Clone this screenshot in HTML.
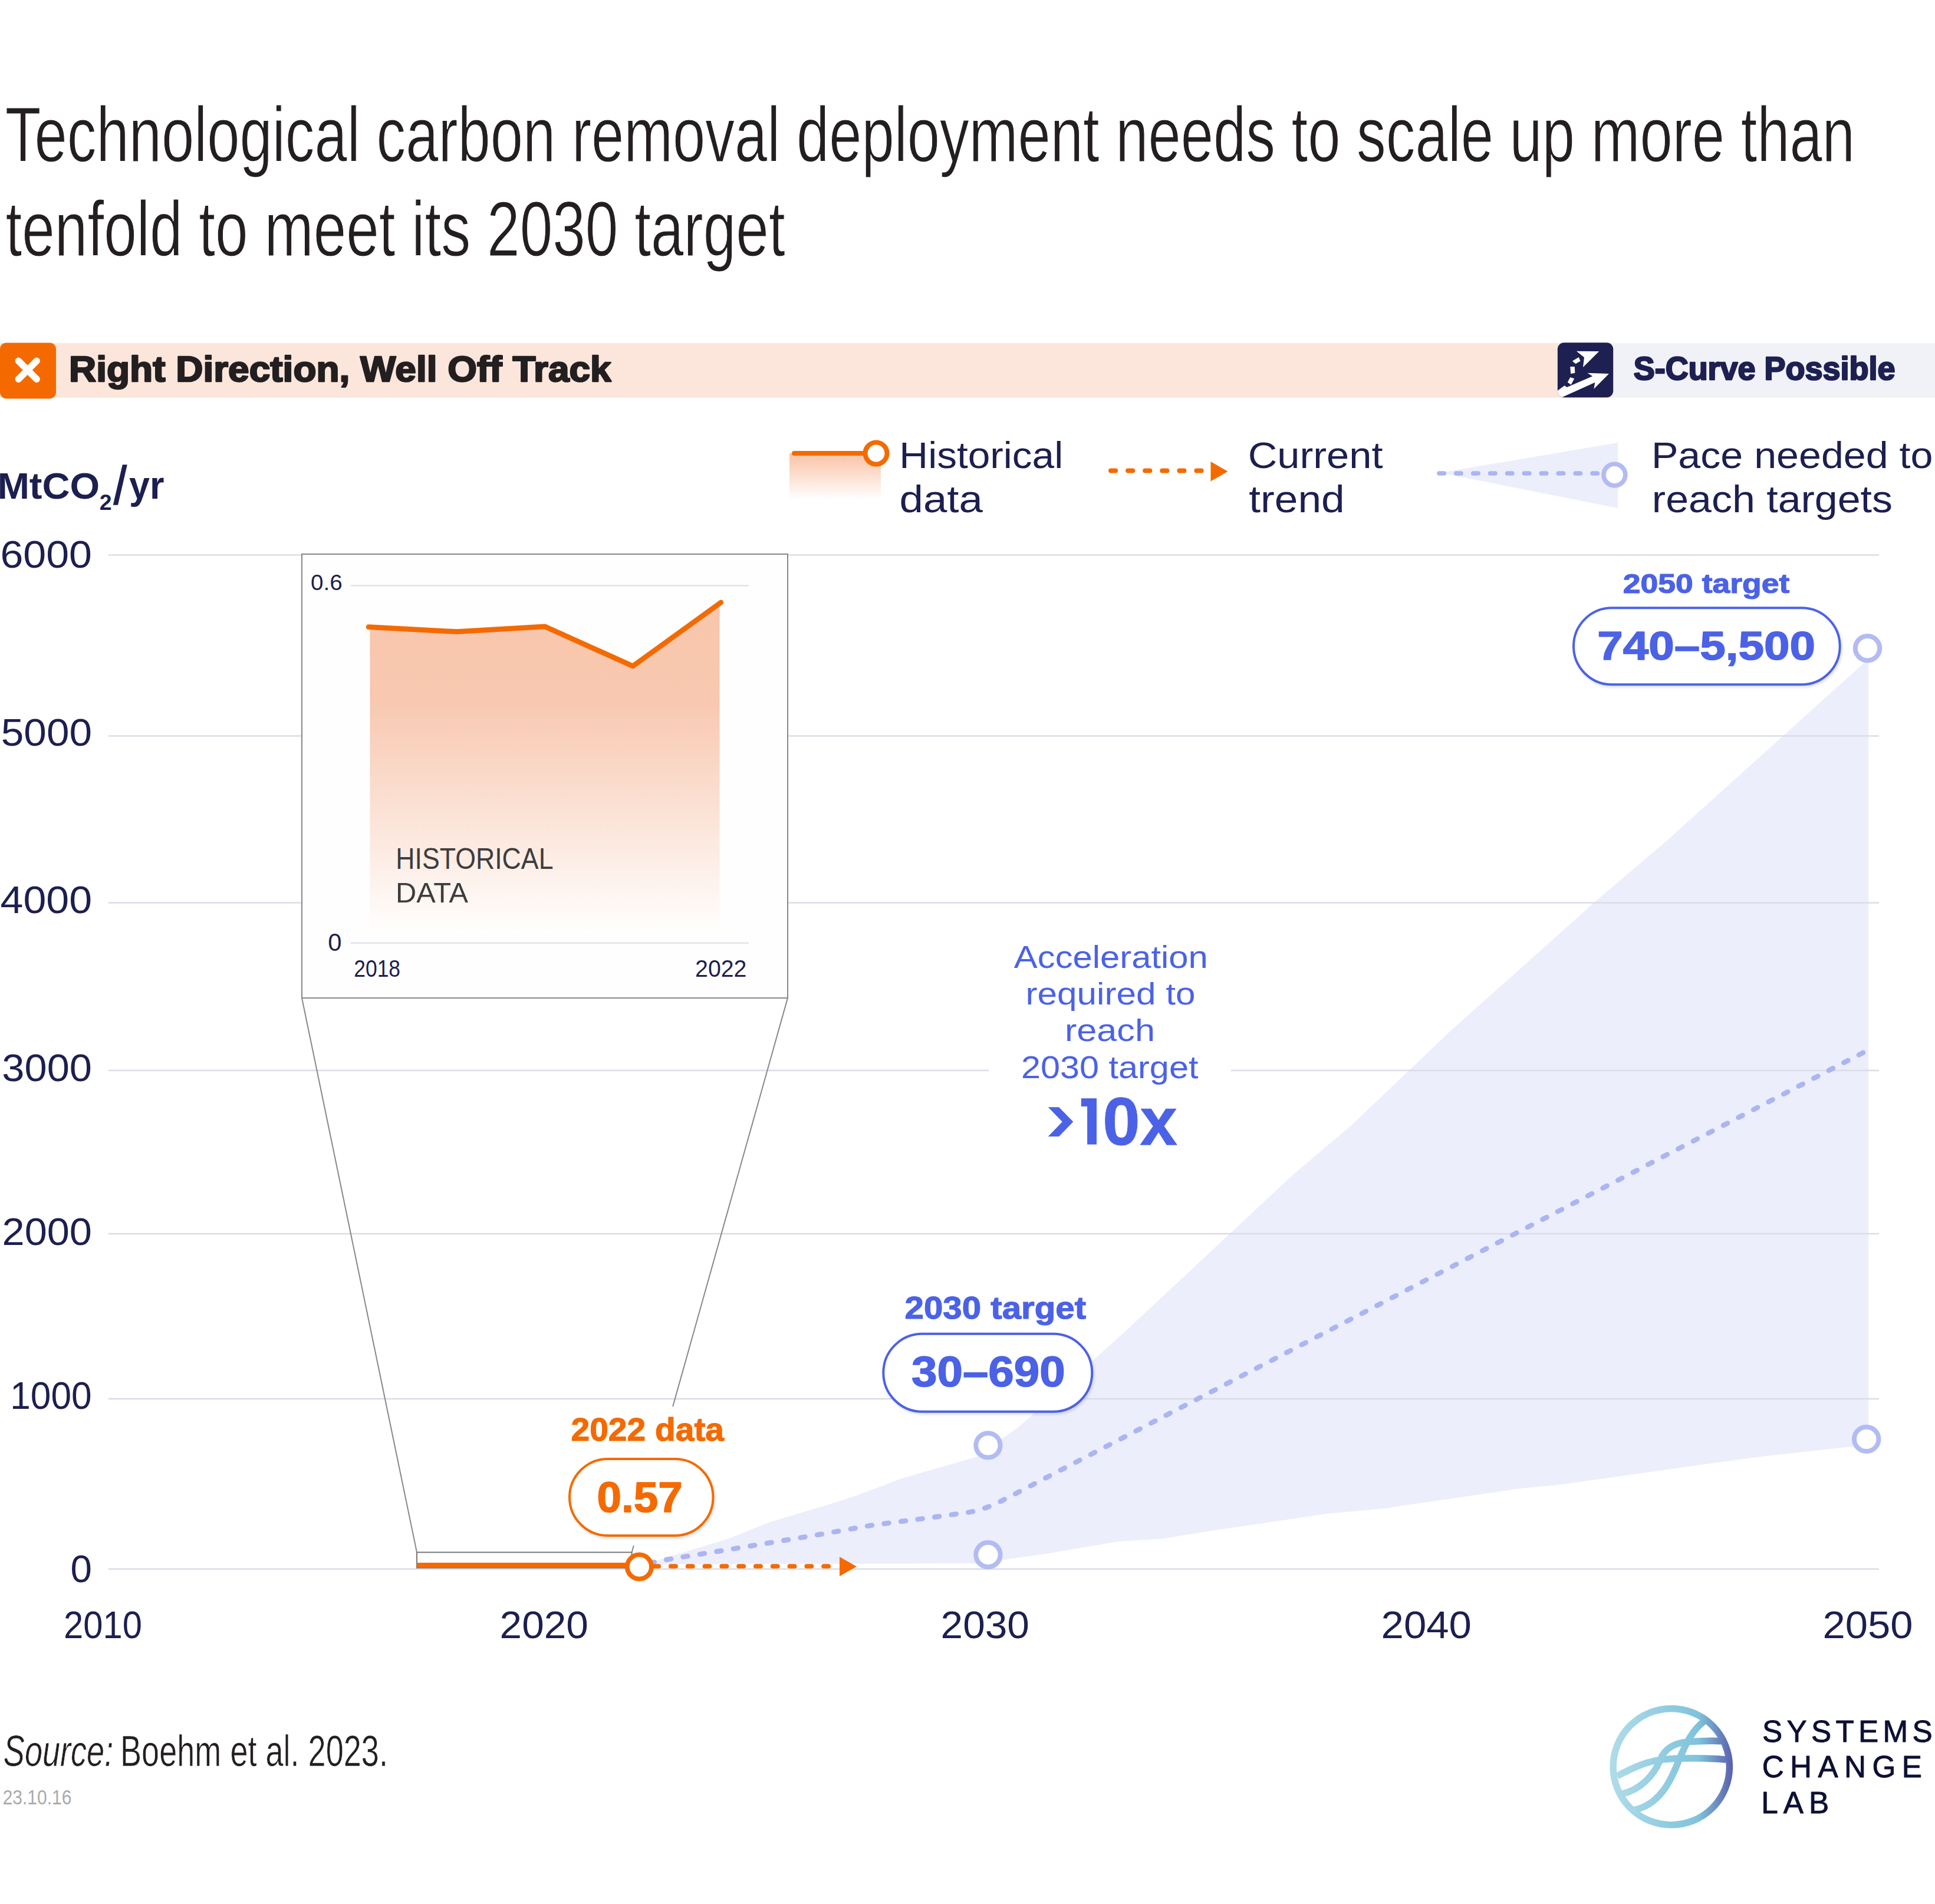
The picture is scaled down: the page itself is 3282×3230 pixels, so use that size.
<!DOCTYPE html>
<html><head><meta charset="utf-8"><style>
html,body{margin:0;padding:0;background:#fff;}
svg{display:block;}
text{font-family:"Liberation Sans",sans-serif;}
</style></head><body>
<svg width="3282" height="3230" viewBox="0 0 3282 3230">
<defs>
<linearGradient id="histg" x1="0" y1="0" x2="0" y2="1">
<stop offset="0" stop-color="#f8c6ac"/><stop offset="0.3" stop-color="#f8c8b0"/><stop offset="1" stop-color="#ffffff"/>
</linearGradient>
<linearGradient id="leggr" x1="0" y1="0" x2="0" y2="1">
<stop offset="0" stop-color="#f9c2a4"/><stop offset="1" stop-color="#ffffff"/>
</linearGradient>
<linearGradient id="logog" gradientUnits="userSpaceOnUse" x1="85" y1="0" x2="1815" y2="0">
<stop offset="0" stop-color="#b0dcea"/><stop offset="0.72" stop-color="#7fc3db"/><stop offset="1" stop-color="#5a5fac"/>
</linearGradient>
<clipPath id="iconclip"><rect x="2641.85" y="581.3" width="94.35" height="93" rx="11"/></clipPath>
<filter id="sh" x="-10%" y="-10%" width="120%" height="130%"><feDropShadow dx="2" dy="3" stdDeviation="2" flood-color="#000" flood-opacity="0.12"/></filter>
</defs>
<rect width="3282" height="3230" fill="#ffffff"/>
<text x="8.78" y="274.00" font-size="130.82" textLength="3137.35" lengthAdjust="spacingAndGlyphs" fill="#231f20" stroke="#fff" stroke-width="1.2">Technological carbon removal deployment needs to scale up more than</text>
<text x="9.49" y="434.00" font-size="130.82" textLength="1322.24" lengthAdjust="spacingAndGlyphs" fill="#231f20" stroke="#fff" stroke-width="1.2">tenfold to meet its 2030 target</text>
<rect x="0" y="582" width="2700" height="92.7" fill="#fce6dc"/>
<rect x="2700" y="582" width="582" height="92.7" fill="#f1f2f8"/>
<rect x="0" y="581.4" width="95" height="94.9" rx="11" fill="#f46a00"/>
<path d="M31.3,612.3 L62.2,643.2 M62.2,612.3 L31.3,643.2" stroke="#fff" stroke-width="11.5" stroke-linecap="round"/>
<text x="116.99" y="646.75" font-size="60.32" textLength="919.70" lengthAdjust="spacingAndGlyphs" fill="#231f20" font-weight="bold"  stroke="#231f20" stroke-width="2.5" stroke-linejoin="round">Right Direction, Well Off Track</text>
<rect x="2641.85" y="581.3" width="94.35" height="93" rx="11" fill="#1e2052"/>
<g clip-path="url(#iconclip)"><g transform="translate(2636,576) scale(0.05568)" fill="#fff"><polygon points="60,1590 320,1400 385,1455 1170,1120 1015,1020 1670,1040 1210,1505 1245,1305 220,1770 60,1800"/><polygon points="680,355 1370,360 880,845 915,545"/><polygon points="555,655 750,540 800,655 655,740"/><polygon points="490,825 625,825 635,1020 505,1040"/><polygon points="490,1150 615,1190 515,1380 410,1300"/></g></g>
<text x="2770.70" y="644.45" font-size="55.23" textLength="443.90" lengthAdjust="spacingAndGlyphs" fill="#1e2052" font-weight="bold"  stroke="#1e2052" stroke-width="2.5" stroke-linejoin="round">S-Curve Possible</text>
<rect x="1339" y="769" width="155" height="78" fill="url(#leggr)"/>
<line x1="1347" y1="769" x2="1466" y2="769" stroke="#f46a00" stroke-width="8" stroke-linecap="round"/>
<circle cx="1486" cy="769" r="18.5" fill="#fff" stroke="#f46a00" stroke-width="8"/>
<text x="1525.36" y="793.60" font-size="63.08" textLength="277.86" lengthAdjust="spacingAndGlyphs" fill="#1c1f4f" >Historical</text>
<text x="1525.55" y="869.00" font-size="63.90" textLength="141.35" lengthAdjust="spacingAndGlyphs" fill="#1c1f4f" >data</text>
<line x1="1884" y1="798.6" x2="2040" y2="798.6" stroke="#f46a00" stroke-width="8" stroke-linecap="round" stroke-dasharray="8.1 21"/>
<polygon points="2053.5,783 2082.5,799.7 2053.5,816.5" fill="#f46a00"/>
<text x="2116.72" y="793.60" font-size="63.08" textLength="228.79" lengthAdjust="spacingAndGlyphs" fill="#1c1f4f" >Current</text>
<text x="2118.32" y="869.00" font-size="63.90" textLength="162.27" lengthAdjust="spacingAndGlyphs" fill="#1c1f4f" >trend</text>
<polygon points="2442,802 2744,751 2744,862" fill="#eceefb"/>
<line x1="2441" y1="803" x2="2716" y2="803" stroke="#abb5f1" stroke-width="7.7" stroke-linecap="round" stroke-dasharray="8.2 20.7"/>
<circle cx="2738.4" cy="805.5" r="18.4" fill="#fff" stroke="#b3bbf3" stroke-width="7.7"/>
<text x="2800.91" y="793.60" font-size="63.08" textLength="477.55" lengthAdjust="spacingAndGlyphs" fill="#1c1f4f" >Pace needed to</text>
<text x="2801.86" y="869.00" font-size="63.90" textLength="408.17" lengthAdjust="spacingAndGlyphs" fill="#1c1f4f" >reach targets</text>
<text x="-4.35" y="846.00" font-size="62.07" textLength="173.49" lengthAdjust="spacingAndGlyphs" fill="#1c1f4f" font-weight="bold" >MtCO</text>
<text x="168.70" y="865.40" font-size="37.24" textLength="20.79" lengthAdjust="spacingAndGlyphs" fill="#1c1f4f" font-weight="bold" >2</text>
<polygon points="207.8,788.3 215.8,788.3 200,856.8 191.8,856.8" fill="#1c1f4f"/>
<text x="218.91" y="846.00" font-size="66.25" textLength="59.55" lengthAdjust="spacingAndGlyphs" fill="#1c1f4f" font-weight="bold" >yr</text>
<path d="M1084,2651 L1109,2648.5 L1235,2610.5 L1306,2582 L1400,2554 L1453,2537 L1527,2509 L1557,2500 L1620,2482 L1658,2471 L1676,2462 L1700.6,2440 L1730,2419 L1906,2261 L2194,1992 L2291,1910 L2459,1750 L2712,1524 L2825,1428 L3169,1118 L3169,2451 L3169,2451 L3004,2469 L2956,2475 L2643,2519 L2579,2525 L2347,2559 L2250,2568 L2034,2600 L1975,2610 L1896,2615 L1780,2635.1 L1699.4,2646.5 L1675,2652 L1084,2654 Z" fill="#eceefb" />
<line x1="184" y1="941.5" x2="3187" y2="941.5" stroke="#dcdce6" stroke-width="2.5"/>
<text x="0.45" y="963.40" font-size="64.97" textLength="155.58" lengthAdjust="spacingAndGlyphs" fill="#1c1f4f" >6000</text>
<line x1="184" y1="1248.5" x2="3187" y2="1248.5" stroke="#dcdce6" stroke-width="2.5"/>
<text x="1.82" y="1265.40" font-size="64.97" textLength="154.18" lengthAdjust="spacingAndGlyphs" fill="#1c1f4f" >5000</text>
<line x1="184" y1="1531.5" x2="3187" y2="1531.5" stroke="#dcdce6" stroke-width="2.5"/>
<text x="0.60" y="1549.40" font-size="64.97" textLength="155.43" lengthAdjust="spacingAndGlyphs" fill="#1c1f4f" >4000</text>
<line x1="184" y1="1816" x2="3187" y2="1816" stroke="#dcdce6" stroke-width="2.5"/>
<text x="3.39" y="1834.40" font-size="64.97" textLength="152.59" lengthAdjust="spacingAndGlyphs" fill="#1c1f4f" >3000</text>
<line x1="184" y1="2093" x2="3187" y2="2093" stroke="#dcdce6" stroke-width="2.5"/>
<text x="3.55" y="2112.40" font-size="64.97" textLength="152.42" lengthAdjust="spacingAndGlyphs" fill="#1c1f4f" >2000</text>
<line x1="184" y1="2373" x2="3187" y2="2373" stroke="#dcdce6" stroke-width="2.5"/>
<text x="17.26" y="2390.40" font-size="64.97" textLength="138.47" lengthAdjust="spacingAndGlyphs" fill="#1c1f4f" >1000</text>
<line x1="184" y1="2661.8" x2="3187" y2="2661.8" stroke="#dcdce6" stroke-width="2.5"/>
<text x="119.44" y="2684.40" font-size="64.97" textLength="36.42" lengthAdjust="spacingAndGlyphs" fill="#1c1f4f" >0</text>
<text x="107.99" y="2778.70" font-size="65.59" textLength="132.94" lengthAdjust="spacingAndGlyphs" fill="#1c1f4f" >2010</text>
<text x="847.60" y="2778.70" font-size="65.59" textLength="150.34" lengthAdjust="spacingAndGlyphs" fill="#1c1f4f" >2020</text>
<text x="1595.60" y="2778.70" font-size="65.59" textLength="150.34" lengthAdjust="spacingAndGlyphs" fill="#1c1f4f" >2030</text>
<text x="2342.53" y="2778.70" font-size="65.59" textLength="153.46" lengthAdjust="spacingAndGlyphs" fill="#1c1f4f" >2040</text>
<text x="3091.54" y="2778.70" font-size="65.59" textLength="153.05" lengthAdjust="spacingAndGlyphs" fill="#1c1f4f" >2050</text>
<path d="M1084.4,2655 L1134.1,2645.1 L1220.6,2631.2 L1307,2617 L1392.2,2602.8 L1479.9,2587.3 L1566.7,2576.1 L1640,2566 Q1669,2561.6 1700,2545.5 L3163,1784.2" fill="none" stroke="#abb5f1" stroke-width="8.5" stroke-linecap="round" stroke-linejoin="round" stroke-dasharray="8 20.8" stroke-dashoffset="10.9"/>
<rect x="512" y="940" width="824" height="753" fill="#fefefe" stroke="#888" stroke-width="2"/>
<line x1="595" y1="993.4" x2="1270" y2="993.4" stroke="#dcdce6" stroke-width="2"/>
<line x1="595" y1="1599.7" x2="1270" y2="1599.7" stroke="#dcdce6" stroke-width="2"/>
<polygon points="627.4,1063.7 774.6,1071.6 924,1062.8 1073.4,1130 1220.6,1023 1220.6,1585 627.4,1585" fill="url(#histg)"/>
<polyline points="625.2,1063.7 774.6,1071.6 924,1062.8 1073.4,1130 1222.8,1022" fill="none" stroke="#f46a00" stroke-width="8.8" stroke-linecap="round" stroke-linejoin="round"/>
<text x="527.09" y="1001.00" font-size="37.24" textLength="53.60" lengthAdjust="spacingAndGlyphs" fill="#1c1f4f" >0.6</text>
<text x="556.37" y="1613.00" font-size="42.97" textLength="23.27" lengthAdjust="spacingAndGlyphs" fill="#1c1f4f" >0</text>
<text x="600.22" y="1657.00" font-size="41.53" textLength="78.82" lengthAdjust="spacingAndGlyphs" fill="#1c1f4f" >2018</text>
<text x="1179.02" y="1657.00" font-size="41.53" textLength="87.45" lengthAdjust="spacingAndGlyphs" fill="#1c1f4f" >2022</text>
<text x="671.25" y="1473.60" font-size="49.13" textLength="267.23" lengthAdjust="spacingAndGlyphs" fill="#3d3d3d" >HISTORICAL</text>
<text x="671.12" y="1530.70" font-size="47.97" textLength="122.97" lengthAdjust="spacingAndGlyphs" fill="#3d3d3d" >DATA</text>
<line x1="512" y1="1693" x2="707" y2="2633.4" stroke="#888" stroke-width="2"/>
<line x1="1336" y1="1693" x2="1071.6" y2="2633.4" stroke="#888" stroke-width="2"/>
<rect x="707" y="2633.4" width="364.6" height="26.3" fill="#fff" stroke="#777" stroke-width="2"/>
<line x1="707" y1="2655.3" x2="1084" y2="2655.3" stroke="#f46a00" stroke-width="8.5"/>
<line x1="1109" y1="2657" x2="1425" y2="2657" stroke="#f46a00" stroke-width="7.7" stroke-linecap="round" stroke-dasharray="8.3 20.5"/>
<polygon points="1424,2641 1453,2657.5 1424,2674" fill="#f46a00"/>
<circle cx="1084.4" cy="2658" r="20.6" fill="#fff" stroke="#f46a00" stroke-width="7.9"/>
<circle cx="1675.9" cy="2451.9" r="20.7" fill="#fff" stroke="#b3bbf3" stroke-width="8"/>
<circle cx="1675.9" cy="2637.5" r="20.7" fill="#fff" stroke="#b3bbf3" stroke-width="8"/>
<circle cx="3167.5" cy="1099.8" r="20.7" fill="#fff" stroke="#b3bbf3" stroke-width="8"/>
<circle cx="3165.7" cy="2441.4" r="20.7" fill="#fff" stroke="#b3bbf3" stroke-width="8"/>
<rect x="950" y="2386" width="230" height="236" fill="#fff"/>
<text x="968.53" y="2443.90" font-size="55.67" textLength="259.51" lengthAdjust="spacingAndGlyphs" fill="#f46a00" font-weight="bold"  stroke="#f46a00" stroke-width="1.2" stroke-linejoin="round">2022 data</text>
<rect x="966" y="2475" width="243.5" height="130" rx="65" fill="#fff" stroke="#f46a00" stroke-width="4" filter="url(#sh)"/>
<text x="1012.50" y="2564.55" font-size="72.32" textLength="145.33" lengthAdjust="spacingAndGlyphs" fill="#f46a00" font-weight="bold"  stroke="#f46a00" stroke-width="1.5" stroke-linejoin="round">0.57</text>
<text x="1534.58" y="2237.40" font-size="54.07" textLength="307.53" lengthAdjust="spacingAndGlyphs" fill="#4b62e6" font-weight="bold"  stroke="#4b62e6" stroke-width="1.2" stroke-linejoin="round">2030 target</text>
<rect x="1498.3" y="2262.8" width="354" height="132" rx="66" fill="#fff" stroke="#4b62e6" stroke-width="4" filter="url(#sh)"/>
<text x="1545.96" y="2351.85" font-size="71.89" textLength="260.80" lengthAdjust="spacingAndGlyphs" fill="#4b62e6" font-weight="bold"  stroke="#4b62e6" stroke-width="1.5" stroke-linejoin="round">30–690</text>
<text x="2752.74" y="1005.80" font-size="46.95" textLength="282.61" lengthAdjust="spacingAndGlyphs" fill="#4b62e6" font-weight="bold"  stroke="#4b62e6" stroke-width="1.2" stroke-linejoin="round">2050 target</text>
<rect x="2669" y="1031.3" width="451.7" height="130" rx="65" fill="#fff" stroke="#4b62e6" stroke-width="4" filter="url(#sh)"/>
<text x="2709.39" y="1119.45" font-size="68.46" textLength="369.67" lengthAdjust="spacingAndGlyphs" fill="#4b62e6" font-weight="bold"  stroke="#4b62e6" stroke-width="1.5" stroke-linejoin="round">740–5,500</text>
<rect x="1677" y="1590" width="411" height="280" fill="#fff"/>
<text x="1719.88" y="1641.50" font-size="54.51" textLength="329.00" lengthAdjust="spacingAndGlyphs" fill="#4b62e6" >Acceleration</text>
<text x="1739.50" y="1703.50" font-size="51.75" textLength="288.03" lengthAdjust="spacingAndGlyphs" fill="#4b62e6" >required to</text>
<text x="1805.94" y="1766.00" font-size="51.75" textLength="153.04" lengthAdjust="spacingAndGlyphs" fill="#4b62e6" >reach</text>
<text x="1732.01" y="1828.60" font-size="53.71" textLength="300.42" lengthAdjust="spacingAndGlyphs" fill="#4b62e6" >2030 target</text>
<polygon points="1777.7,1878.3 1796.1,1878.3 1820.3,1903 1796.1,1928 1777.7,1928 1801.8,1903" fill="#4b62e6"/>
<polygon points="1833.8,1863.2 1860,1863.2 1860,1941.6 1844.1,1941.6 1844.1,1877.1 1833.8,1877.1" fill="#4b62e6"/>
<text x="1870.19" y="1941.80" font-size="114.57" textLength="126.74" lengthAdjust="spacingAndGlyphs" fill="#4b62e6" font-weight="bold"  stroke="#4b62e6" stroke-width="1" stroke-linejoin="round">0x</text>
<text x="5.87" y="2996.00" font-size="74.13" textLength="186.30" lengthAdjust="spacingAndGlyphs" fill="#231f20" font-style="italic" stroke="#fff" stroke-width="0.6">Source:</text>
<text x="204.06" y="2996.00" font-size="74.13" textLength="453.87" lengthAdjust="spacingAndGlyphs" fill="#231f20" stroke="#fff" stroke-width="0.6">Boehm et al. 2023.</text>
<text x="4.69" y="3060.80" font-size="35.52" textLength="116.62" lengthAdjust="spacingAndGlyphs" fill="#aaaaaa" >23.10.16</text>
<g transform="translate(2720,2880) scale(0.1208)" fill="none" stroke="url(#logog)" stroke-width="95" stroke-linecap="butt"><circle cx="950" cy="970" r="817"/><path d="M190,1100 C420,980 620,890 820,870 C1100,840 1500,850 1720,870"/><path d="M255,1350 C500,1300 700,1100 790,880 C860,700 1000,640 1180,620 C1400,605 1550,605 1650,610"/><path d="M420,1580 C800,1500 950,1150 1060,870 C1150,650 1250,450 1410,330"/></g>
<text x="2989.02" y="2955.05" font-size="51.31" textLength="288.68" lengthAdjust="spacing" fill="#0d1033"  stroke="#0d1033" stroke-width="0.9" stroke-linejoin="round">SYSTEMS</text>
<text x="2988.74" y="3015.35" font-size="51.31" textLength="271.11" lengthAdjust="spacing" fill="#0d1033"  stroke="#0d1033" stroke-width="0.9" stroke-linejoin="round">CHANGE</text>
<text x="2987.24" y="3075.75" font-size="51.31" textLength="114.91" lengthAdjust="spacing" fill="#0d1033"  stroke="#0d1033" stroke-width="0.9" stroke-linejoin="round">LAB</text>
</svg></body></html>
